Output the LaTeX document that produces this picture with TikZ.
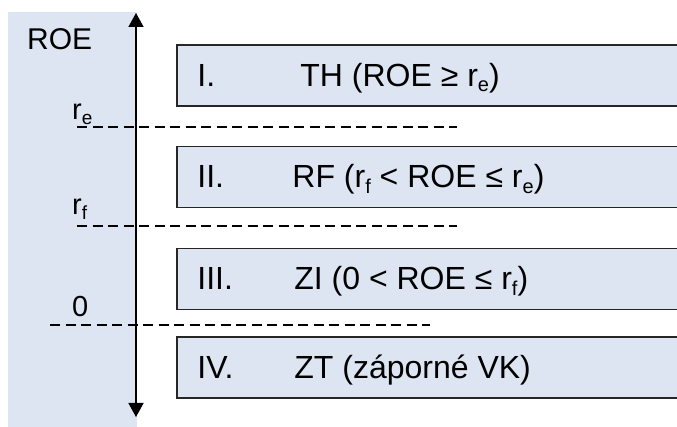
\documentclass[tikz,border=0pt]{standalone}
\usepackage{fontspec}
\setmainfont{Liberation Sans}
\usetikzlibrary{arrows.meta}
\definecolor{paleblue}{RGB}{220,229,241}
\newcommand\lowsub[1]{\raisebox{-0.17em}{\fontsize{20}{20}\selectfont #1}}
\newcommand\lowsubs[1]{\raisebox{-0.17em}{\fontsize{19}{19}\selectfont #1}}
\tikzset{
  panel/.style={fill=paleblue, draw=none},
  band/.style={draw=black!85, line width=1.6pt, fill=paleblue, rectangle, minimum width=513pt, minimum height=61pt, inner sep=0pt},
  boxtxt/.style={inner sep=0pt, anchor=base west, font=\fontsize{32}{36}\selectfont},
  axlbl/.style={inner sep=0pt, anchor=base west, font=\fontsize{29}{32}\selectfont},
  level/.style={dashed, dash pattern=on 10pt off 5.5pt, line width=1.5pt},
  axis/.style={line width=1.5pt, {Triangle[width=15pt,length=14pt]}-{Triangle[width=15pt,length=14pt]}}
}
\begin{document}
\begin{tikzpicture}[x=1pt,y=1pt]
\useasboundingbox (0,0) rectangle (677,427);
\clip (0,0) rectangle (677,427);
\fill[panel] (8,0) rectangle (137,415);
% axis
\coordinate (atop) at (136,414);
\coordinate (abot) at (136,10);
\draw[axis] (abot) -- (atop);
% labels
\node[axlbl, font=\fontsize{30}{34}\selectfont] (roe) at (27,377) {ROE};
\node[axlbl] (re) at (72,307) {r\lowsubs{e}};
\node[axlbl] (rf) at (72,212) {r\lowsubs{f}};
\node[axlbl] (zero) at (72,110) {0};
% dashed levels
\coordinate (d1a) at (77,300); \coordinate (d1b) at (457,300);
\coordinate (d2a) at (77,201); \coordinate (d2b) at (457,201);
\coordinate (d3a) at (50,102); \coordinate (d3b) at (430,102);
\draw[level] (d1a) -- (d1b);
\draw[level] (d2a) -- (d2b);
\draw[level] (d3a) -- (d3b);
% bands
\node[band] (b1) at (433.5,351.5) {};
\node[band] (b2) at (433.5,250) {};
\node[band] (b3) at (433.5,148) {};
\node[band] (b4) at (433.5,59.5) {};
\node[boxtxt] (n1) at ([xshift=21pt,yshift=-11pt]b1.west) {I.};
\node[boxtxt] (t1) at ([xshift=124pt,yshift=-11pt]b1.west) {TH (ROE ≥ r\lowsub{e})};
\node[boxtxt] (n2) at ([xshift=21pt,yshift=-11pt]b2.west) {II.};
\node[boxtxt] (t2) at ([xshift=116pt,yshift=-11pt]b2.west) {RF (r\lowsub{f} < ROE ≤ r\lowsub{e})};
\node[boxtxt] (n3) at ([xshift=21pt,yshift=-11pt]b3.west) {III.};
\node[boxtxt] (t3) at ([xshift=118pt,yshift=-11pt]b3.west) {ZI (0 < ROE ≤ r\lowsub{f})};
\node[boxtxt] (n4) at ([xshift=21pt,yshift=-11pt]b4.west) {IV.};
\node[boxtxt] (t4) at ([xshift=118pt,yshift=-11pt]b4.west) {ZT (záporné VK)};
\end{tikzpicture}
\end{document}
